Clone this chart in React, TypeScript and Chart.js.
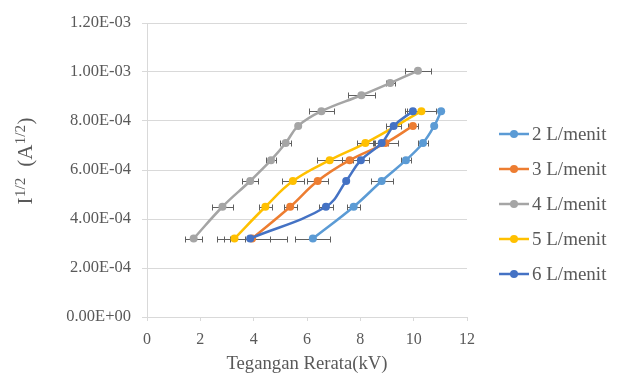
import React, { useEffect, useRef } from 'react';
import { Chart, registerables } from 'chart.js';

Chart.register(...registerables);

// ---- data ----
const seriesLabels = ['2 L/menit', '3 L/menit', '4 L/menit', '5 L/menit', '6 L/menit'];
const seriesColors = ['#5B9BD5', '#ED7D31', '#A5A5A5', '#FFC000', '#4472C4'];

const x2 = [6.22, 7.75, 8.8, 9.71, 10.35, 10.77, 11.03];
const y2 = [3.2e-4, 4.5e-4, 5.55e-4, 6.4e-4, 7.1e-4, 7.8e-4, 8.4e-4];
const e2 = [0.66, 0.25, 0.41, 0.19, 0.19, 0, 0];

const x3 = [3.94, 5.37, 6.4, 7.6, 8.94, 9.97];
const y3 = [3.2e-4, 4.5e-4, 5.55e-4, 6.4e-4, 7.1e-4, 7.8e-4];
const e3 = [1.3, 0.25, 0.39, 0.3, 0.48, 0.2];

const x4 = [1.75, 2.83, 3.87, 4.65, 5.2, 5.67, 6.54, 8.04, 9.12, 10.16];
const y4 = [3.2e-4, 4.5e-4, 5.55e-4, 6.4e-4, 7.1e-4, 7.8e-4, 8.4e-4, 9.05e-4, 9.55e-4, 1.005e-3];
const e4 = [0.33, 0.39, 0.3, 0.2, 0.21, 0, 0.47, 0.5, 0.17, 0.48];

const x5 = [3.28, 4.44, 5.47, 6.85, 8.19, 10.29];
const y5 = [3.2e-4, 4.5e-4, 5.55e-4, 6.4e-4, 7.1e-4, 8.4e-4];
const e5 = [0.4, 0.25, 0.4, 0.48, 0.31, 0.54];

const x6 = [3.87, 6.71, 7.47, 8.02, 8.8, 9.25, 9.97];
const y6 = [3.2e-4, 4.5e-4, 5.55e-4, 6.4e-4, 7.1e-4, 7.8e-4, 8.4e-4];
const e6 = [0.75, 0.25, 0, 0.3, 0.25, 0.28, 0.3];

const xTicks = [0, 2, 4, 6, 8, 10, 12];
const yTicks = [0, 2e-4, 4e-4, 6e-4, 8e-4, 1e-3, 1.2e-3];

const xTitle = 'Tegangan Rerata(kV)';

const seriesX = [x2, x3, x4, x5, x6];
const seriesY = [y2, y3, y4, y5, y6];
const seriesErr = [e2, e3, e4, e5, e6];

const FONT = '"Liberation Serif", "Times New Roman", serif';
const TEXT = '#595959';

function fmtExp(v: number): string {
  if (Math.abs(v) < 1e-15) return '0.00E+00';
  const s = v.toExponential(2);
  const [m, ex] = s.split('e');
  const n = parseInt(ex, 10);
  const sign = n < 0 ? '-' : '+';
  const d = String(Math.abs(n)).padStart(2, '0');
  return `${m}E${sign}${d}`;
}

const errorBarPlugin = {
  id: 'errorBars',
  beforeDatasetsDraw(chart: any) {
    const { ctx } = chart;
    const xs = chart.scales.x;
    const ys = chart.scales.y;
    ctx.save();
    ctx.strokeStyle = '#606060';
    ctx.lineWidth = 1;
    seriesX.forEach((xa, si) => {
      xa.forEach((xv, i) => {
        const e = seriesErr[si][i];
        if (!e) return;
        const py = Math.round(ys.getPixelForValue(seriesY[si][i])) + 0.5;
        const a = Math.round(xs.getPixelForValue(xv - e)) + 0.5;
        const b = Math.round(xs.getPixelForValue(xv + e)) + 0.5;
        ctx.beginPath();
        ctx.moveTo(a, py);
        ctx.lineTo(b, py);
        ctx.moveTo(a, py - 3);
        ctx.lineTo(a, py + 3);
        ctx.moveTo(b, py - 3);
        ctx.lineTo(b, py + 3);
        ctx.stroke();
      });
    });
    ctx.restore();
  },
};

const extrasPlugin = {
  id: 'extras',
  afterDraw(chart: any) {
    const { ctx } = chart;
    ctx.save();
    // legend
    seriesLabels.forEach((lab, i) => {
      const y = 134 + i * 35;
      ctx.strokeStyle = seriesColors[i];
      ctx.lineWidth = 2.5;
      ctx.beginPath();
      ctx.moveTo(499, y);
      ctx.lineTo(529, y);
      ctx.stroke();
      ctx.fillStyle = seriesColors[i];
      ctx.beginPath();
      ctx.arc(514, y, 4, 0, Math.PI * 2);
      ctx.fill();
      ctx.fillStyle = TEXT;
      ctx.font = `19px ${FONT}`;
      ctx.textAlign = 'left';
      ctx.textBaseline = 'middle';
      ctx.fillText(lab, 532, y + 1);
    });
    // y axis title with superscripts
    const big = `21px ${FONT}`;
    const small = `15px ${FONT}`;
    const parts: [string, boolean][] = [
      ['I', false],
      ['1/2', true],
      ['  (A', false],
      ['1/2', true],
      [')', false],
    ];
    let total = 0;
    const widths = parts.map(([t, sup]) => {
      ctx.font = sup ? small : big;
      const w = ctx.measureText(t).width + (sup ? 1 : 0);
      total += w;
      return w;
    });
    ctx.translate(32, 161);
    ctx.rotate(-Math.PI / 2);
    ctx.fillStyle = TEXT;
    ctx.textAlign = 'left';
    ctx.textBaseline = 'alphabetic';
    let cx = -total / 2;
    parts.forEach(([t, sup], i) => {
      ctx.font = sup ? small : big;
      ctx.fillText(t, cx + (sup ? 0.5 : 0), sup ? -7 : 0);
      cx += widths[i];
    });
    ctx.restore();
  },
};

export default function App() {
  const ref = useRef<HTMLCanvasElement>(null);

  useEffect(() => {
    if (!ref.current) return;
    const datasets = seriesLabels.map((label, si) => ({
      label,
      data: seriesX[si].map((xv, i) => ({ x: xv, y: seriesY[si][i] })),
      showLine: true,
      borderColor: seriesColors[si],
      backgroundColor: seriesColors[si],
      pointBackgroundColor: seriesColors[si],
      pointBorderColor: seriesColors[si],
      pointRadius: 4,
      pointBorderWidth: 0,
      borderWidth: 2.5,
      tension: 0.4,
      order: 4 - si,
    }));

    const chart = new Chart(ref.current, {
      type: 'scatter',
      data: { datasets },
      options: {
        responsive: false,
        animation: false,
        devicePixelRatio: 1,
        layout: { padding: { left: 0, top: 23, right: 154, bottom: 0 } },
        plugins: {
          legend: { display: false },
          tooltip: { enabled: false },
        },
        scales: {
          x: {
            type: 'linear',
            min: 0,
            max: 12,
            afterBuildTicks: (s: any) => {
              s.ticks = xTicks.map((v) => ({ value: v }));
            },
            afterFit: (s: any) => {
              s.height = 63;
            },
            grid: {
              drawOnChartArea: false,
              drawTicks: true,
              tickLength: 4,
              color: '#D9D9D9',
            },
            border: { color: '#D9D9D9' },
            ticks: {
              color: TEXT,
              font: { family: FONT, size: 16 },
              padding: 9,
              maxRotation: 0,
              callback: (v: any) => String(v),
            },
            title: {
              display: true,
              text: xTitle,
              color: TEXT,
              font: { family: FONT, size: 18.7 },
              padding: { top: 0, bottom: 5 },
            },
          },
          y: {
            type: 'linear',
            min: 0,
            max: 1.2e-3,
            afterBuildTicks: (s: any) => {
              s.ticks = yTicks.map((v) => ({ value: v }));
            },
            afterFit: (s: any) => {
              s.width = 147;
            },
            grid: {
              color: '#D9D9D9',
              drawTicks: true,
              tickLength: 5,
            },
            border: { color: '#D9D9D9' },
            ticks: {
              color: TEXT,
              font: { family: FONT, size: 16.5 },
              padding: 11,
              callback: (v: any) => fmtExp(Number(v)),
            },
          },
        },
      },
      plugins: [errorBarPlugin, extrasPlugin],
    } as any);

    return () => chart.destroy();
  }, []);

  return (
    <div style={{ position: 'fixed', left: 0, top: 0, width: 621, height: 380, background: '#fff' }}>
      <canvas ref={ref} width={621} height={380} style={{ display: 'block', width: 621, height: 380 }} />
    </div>
  );
}
